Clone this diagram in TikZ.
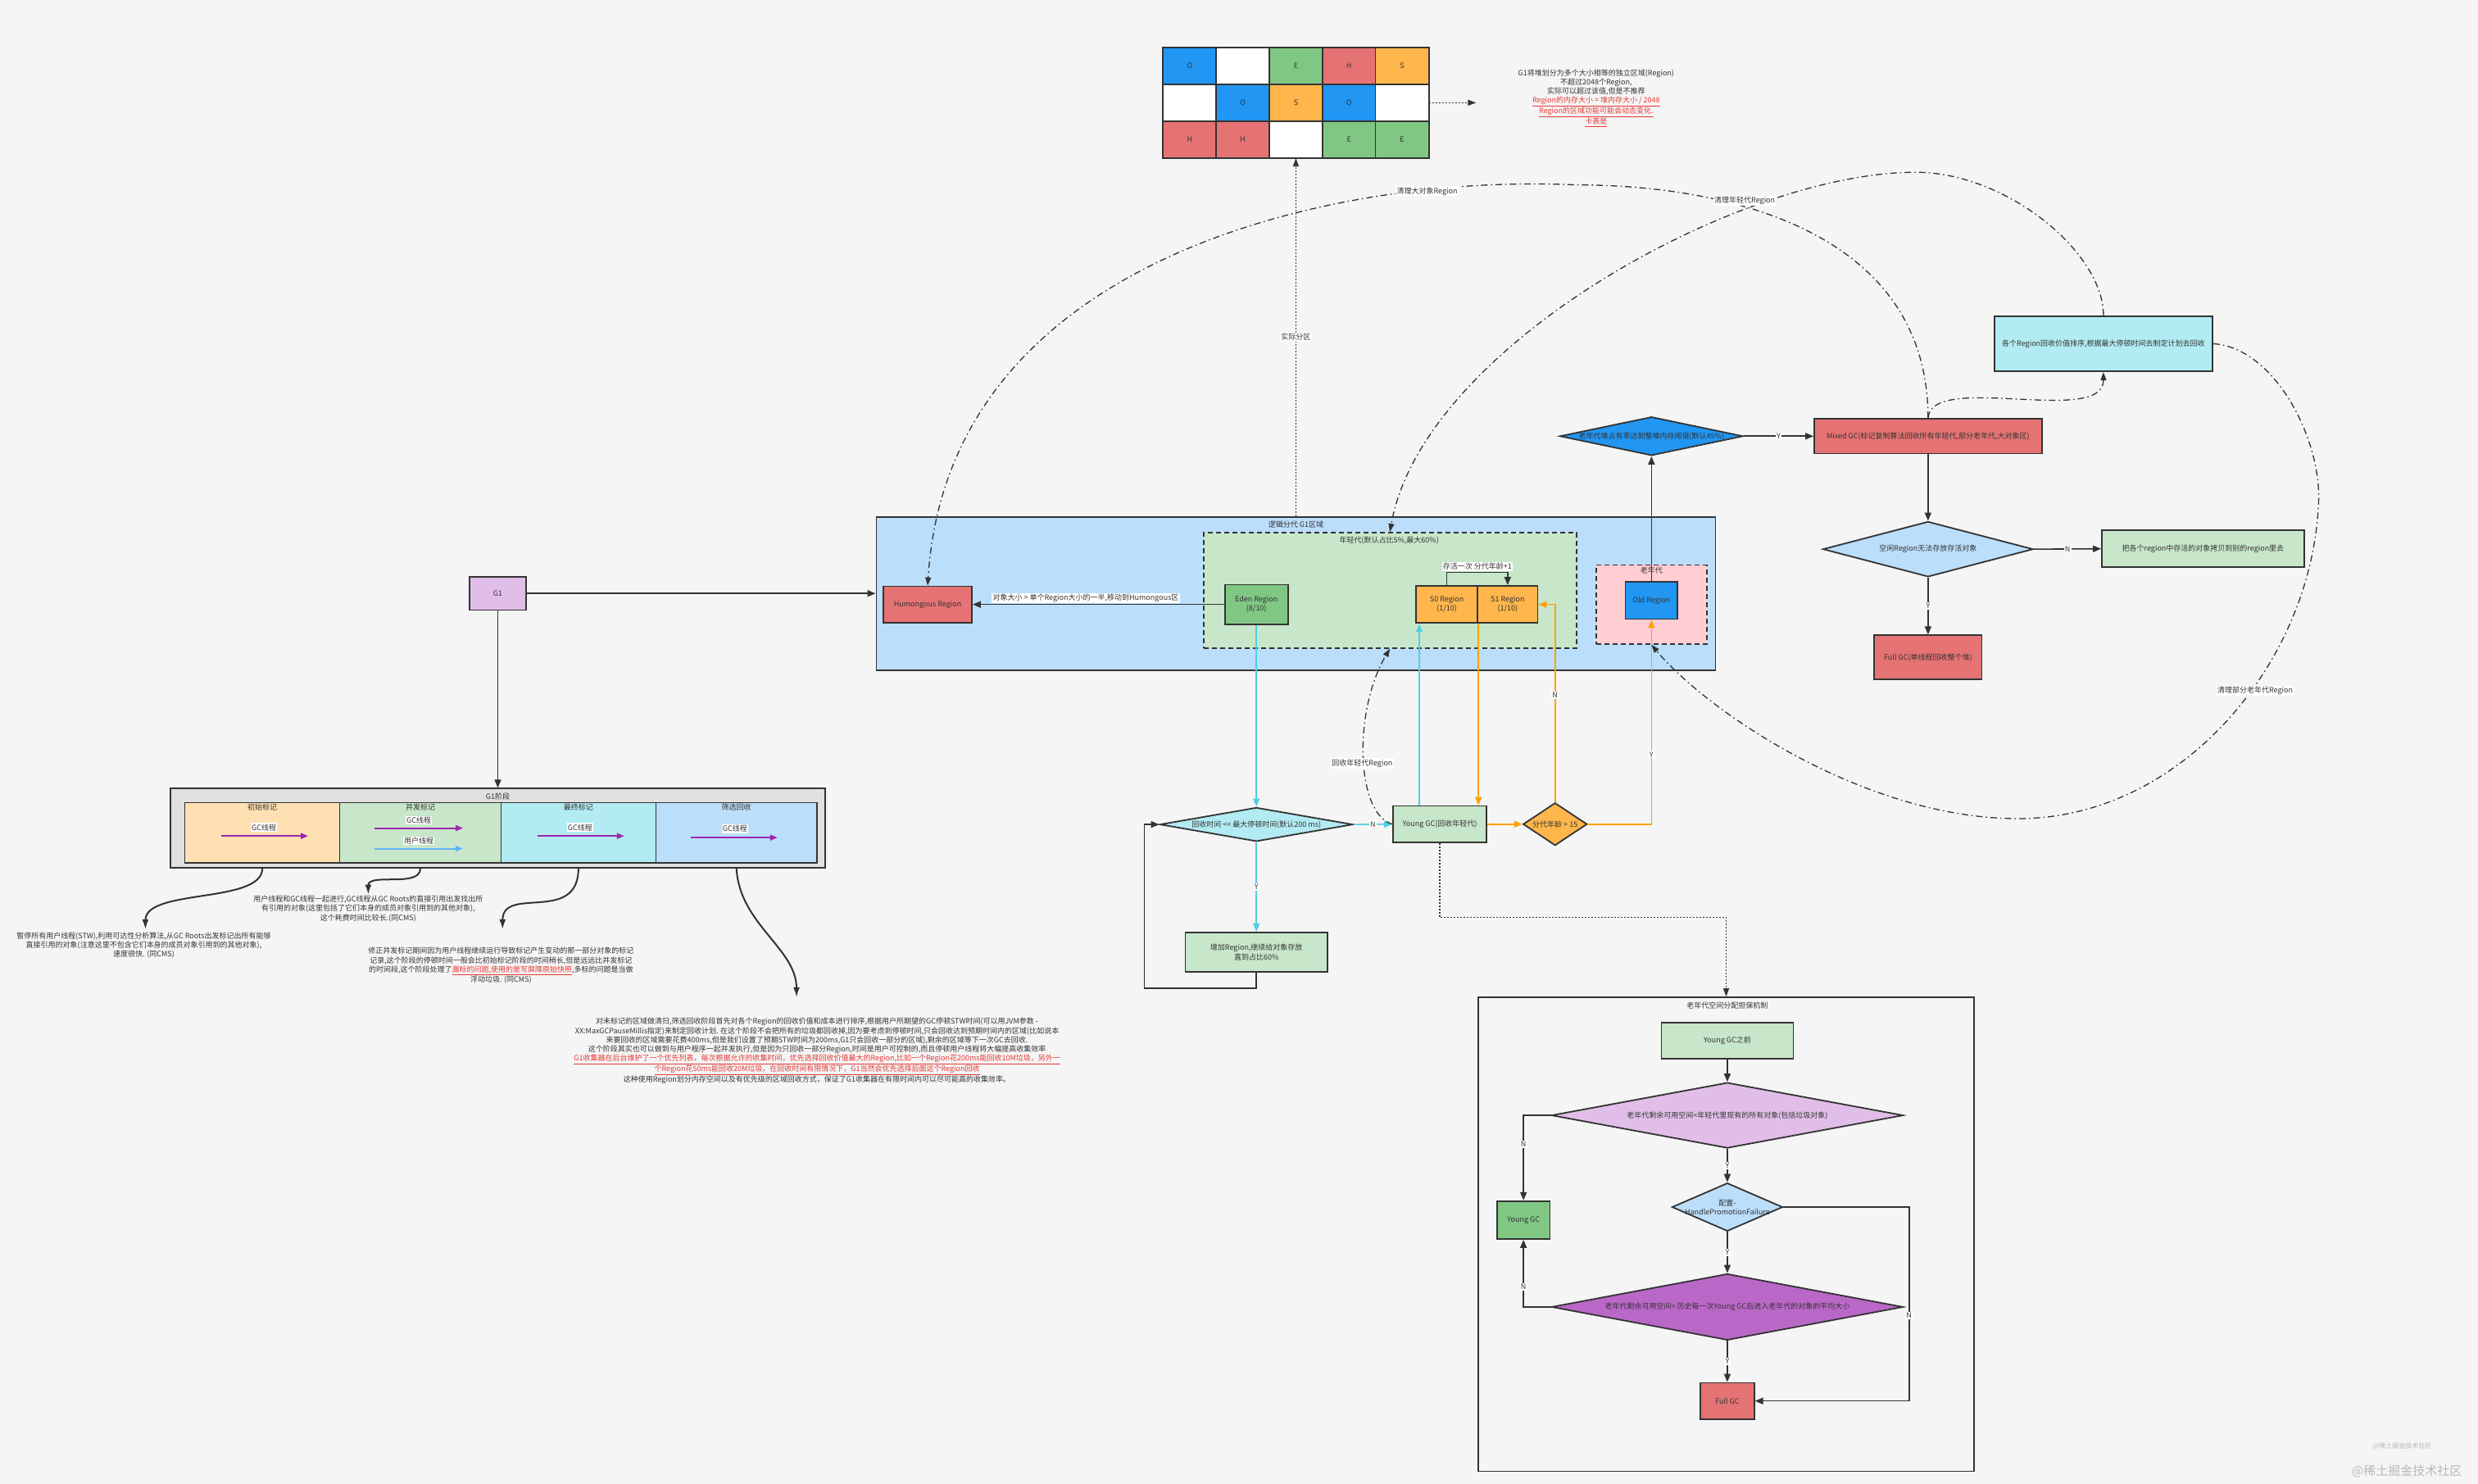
\documentclass[tikz,border=0pt]{standalone}
\usepackage{fontspec}
\setmainfont{Noto Sans CJK SC}
\usetikzlibrary{arrows.meta,shapes.geometric}
\definecolor{bg}{HTML}{F5F5F5}
\definecolor{dk}{HTML}{333333}
\definecolor{cO}{HTML}{2196F3}
\definecolor{cE}{HTML}{81C784}
\definecolor{cH}{HTML}{E57373}
\definecolor{cS}{HTML}{FFB74D}
\definecolor{lblue}{HTML}{BBDEFB}
\definecolor{lgreen}{HTML}{C8E6C9}
\definecolor{lpink}{HTML}{FFCDD2}
\definecolor{lpurple}{HTML}{E1BEE7}
\definecolor{lcyan}{HTML}{B2EBF2}
\definecolor{lgray}{HTML}{E0E0E0}
\definecolor{lorange}{HTML}{FFE0B2}
\definecolor{mpurple}{HTML}{BA68C8}
\definecolor{arrp}{HTML}{9C27B0}
\definecolor{arrb}{HTML}{64B5F6}
\definecolor{lncyan}{HTML}{4DD0E1}
\definecolor{lnor}{HTML}{FFA000}
\definecolor{red1}{HTML}{E53935}
\definecolor{wm}{HTML}{B8B8B8}
\newcommand\fsz{\fontsize{9}{11.2}\selectfont}
\newcommand\redul[1]{{\color{red1}\underline{#1}}}
\tikzset{
 every node/.style={font=\fsz, text=dk},
 sz/.style 2 args={minimum width=#1*1.9286pt, minimum height=#2*1.9286pt},
 bx/.style={draw=dk, line width=1.8pt, inner sep=0pt, align=center},
 dbx/.style={draw=dk, line width=1.8pt, dash pattern=on 6pt off 4pt, inner sep=0pt},
 dia/.style={shape=diamond, draw=dk, line width=1.8pt, inner sep=0pt},
 cn/.style={draw=dk, line width=1.6pt, -{Triangle[length=10pt,width=8pt]}},
 lbl/.style={fill=white, inner sep=1.2pt},
 dd/.style={draw=dk, line width=1.3pt, dash pattern=on 8pt off 4pt on 1.6pt off 4pt, -{Triangle[length=10pt,width=7pt]}},
 dt/.style={draw=dk, line width=1.3pt, dash pattern=on 2pt off 2pt, -{Triangle[length=10pt,width=7pt]}},
 cy/.style={draw=lncyan, line width=1.6pt, -{Triangle[length=10pt,width=8pt]}},
 og/.style={draw=lnor, line width=1.6pt, -{Triangle[length=10pt,width=8pt]}},
 parr/.style={draw=arrp, line width=2pt, -{Triangle[length=9pt,width=7pt]}},
 barr/.style={draw=arrb, line width=2pt, -{Triangle[length=9pt,width=7pt]}},
 desc/.style={align=center, font=\fsz},
 scurve/.style={draw=dk, line width=2pt, -{Latex[length=12pt,width=8pt]}},
}
\begin{document}
\begin{tikzpicture}[x=1.9286pt,y=-1.9286pt]
\useasboundingbox (0,0) rectangle (1568,939);
\fill[bg] (0,0) rectangle (1568,939);

% ---------------- grid of regions
\node[sz={168}{70}, inner sep=0pt] (grid) at (820,65) {};
\foreach \i/\j/\cc/\tx in {0/0/cO/O,1/0/white/,2/0/cE/E,3/0/cH/H,4/0/cS/S,0/1/white/,1/1/cO/O,2/1/cS/S,3/1/cO/O,4/1/white/,0/2/cH/H,1/2/cH/H,2/2/white/,3/2/cE/E,4/2/cE/E}{
  \filldraw[fill=\cc, draw=dk, line width=1.5pt] (736+\i*33.6, 30+\j*23.333) rectangle ++(33.6,23.333);
  \node at (736+\i*33.6+16.8, 30+\j*23.333+11.667) {\tx};
}
\draw[dk, line width=2.2pt] (grid.north west) rectangle (grid.south east);
\node[desc] (gtext) at (1010,62) {G1将堆划分为多个大小相等的独立区域(Region)\\不超过2048个Region,\\实际可以超过该值,但是不推荐\\\redul{Region的内存大小 = 堆内存大小 / 2048}\\\redul{Region的区域功能可能会动态变化.}\\\redul{卡表是}};
\coordinate (gend) at (934,65);
\draw[dt] (grid.east) -- (gend);

% ---------------- logical G1 area
\node[bx, fill=lblue, sz={531}{97}] (g1area) at (820,375.5) {};
\node at (820,332) {逻辑分代 G1区域};
\node[dbx, fill=lgreen, sz={236}{73}] (young) at (879.5,373.5) {};
\node at (879,342) {年轻代(默认占比5\%,最大60\%)};
\node[dbx, fill=lpink, sz={70}{50}] (oldgen) at (1045,382.5) {};
\node at (1045,361) {老年代};
\node[bx, fill=cH, sz={56}{23}] (hum) at (587,382.5) {Humongous Region};
\node[bx, fill=cE, sz={40}{25}] (eden) at (795,382.5) {Eden Region\\(8/10)};
\node[bx, fill=cS, sz={39}{23.5}] (s0) at (915.5,382.5) {S0 Region\\(1/10)};
\node[bx, fill=cS, sz={38}{23.5}] (s1) at (954,382.5) {S1 Region\\(1/10)};
\node[bx, fill=cO, sz={33}{23.5}] (oldr) at (1045,380) {Old Region};

\draw[cn] (eden.west) -- (hum.east) node[pos=0.55, above=1pt, lbl]{对象大小 > 单个Region大小的一半,移动到Humongous区};
\draw[cn] (s0.north) -- ++(0,-8) -| (s1.north) node[pos=0.25, above=1pt, lbl]{存活一次 分代年龄+1};

% ---------------- G1 node
\node[bx, fill=lpurple, sz={36}{21}] (g1) at (315,375.5) {G1};
\draw[cn] (g1.east) -- (g1area.west |- g1.east);

% ---------------- G1 stages
\node[bx, fill=lgray, sz={414}{50}] (stage) at (315,524) {};
\node at (315,504) {G1阶段};
\node[bx, line width=1.5pt, fill=lorange, sz={98}{38}] (p1) at (166,527) {};
\node[bx, line width=1.5pt, fill=lgreen, sz={102}{38}] (p2) at (266,527) {};
\node[bx, line width=1.5pt, fill=lcyan, sz={98}{38}] (p3) at (366,527) {};
\node[bx, line width=1.5pt, fill=lblue, sz={102}{38}] (p4) at (466,527) {};
\node at (166,511) {初始标记};
\node at (266,511) {并发标记};
\node at (366,511) {最终标记};
\node at (466,511) {筛选回收};
\draw[parr] (140,529) -- (195,529);
\node[lbl] at (167,523.5) {GC线程};
\draw[parr] (237,524) -- (293,524);
\node[lbl] at (265,519) {GC线程};
\draw[barr] (237,537) -- (293,537);
\node[lbl] at (265,532) {用户线程};
\draw[parr] (340,529) -- (395,529);
\node[lbl] at (367,523.5) {GC线程};
\draw[parr] (437,530) -- (492,530);
\node[lbl] at (465,524.5) {GC线程};
\draw[cn] (g1.south) -- (stage.north);

% ---------------- descriptions
\node[desc] (t1) at (91,598) {暂停所有用户线程(STW),利用可达性分析算法,从GC Roots出发标记出所有能够\\直接引用的对象(注意这里不包含它们本身的成员对象引用到的其他对象),\\速度很快. (同CMS)};
\node[desc] (t2) at (233,575) {用户线程和GC线程一起进行,GC线程从GC Roots的直接引用出发找出所\\有引用的对象(这里包括了它们本身的成员对象引用到的其他对象),\\这个耗费时间比较长.(同CMS)};
\node[desc] (t3) at (317,611) {修正并发标记期间因为用户线程继续运行导致标记产生变动的那一部分对象的标记\\记录,这个阶段的停顿时间一般会比初始标记阶段的时间稍长,但是远远比并发标记\\的时间段,这个阶段处理了\redul{漏标的问题,使用的是写屏障原始快照},多标的问题是当做\\浮动垃圾. (同CMS)};
\node[desc] (t4) at (517,665) {对未标记的区域做清扫,筛选回收阶段首先对各个Region的回收价值和成本进行排序,根据用户所期望的GC停顿STW时间(可以用JVM参数 -\\XX:MaxGCPauseMillis指定)来制定回收计划. 在这个阶段不会把所有的垃圾都回收掉,因为要考虑到停顿时间,只会回收达到预期时间内的区域(比如说本\\来要回收的区域需要花费400ms,但是我们设置了预期STW时间为200ms,G1只会回收一部分的区域),剩余的区域等下一次GC去回收.\\这个阶段其实也可以做到与用户程序一起并发执行,但是因为只回收一部分Region,时间是用户可控制的,而且停顿用户线程将大幅提高收集效率\\\redul{G1收集器在后台维护了一个优先列表，每次根据允许的收集时间，优先选择回收价值最大的Region,比如一个Region花200ms能回收10M垃圾，另外一}\\\redul{个Region花50ms能回收20M垃圾，在回收时间有限情况下，G1当然会优先选择后面这个Region回收}\\这种使用Region划分内存空间以及有优先级的区域回收方式，保证了G1收集器在有限时间内可以尽可能高的收集效率。};
\coordinate (e1) at (92,588);
\coordinate (e2) at (233,566);
\coordinate (e3) at (318,588);
\coordinate (e4) at (504,631);
\draw[scurve] (p1.south |- stage.south) .. controls (166,572) and (92,562) .. (e1);
\draw[scurve] (p2.south |- stage.south) .. controls (266,562) and (233,552) .. (e2);
\draw[scurve] (p3.south |- stage.south) .. controls (366,585) and (318,560) .. (e3);
\draw[scurve] (p4.south |- stage.south) .. controls (468,585) and (504,600) .. (e4);

% ---------------- young GC loop
\node[dia, fill=lcyan, sz={122}{21.5}] (dt1) at (795,521.7) {};
\node at (dt1) {回收时间 <{}< 最大停顿时间(默认200 ms)};
\node[bx, fill=lgreen, sz={59}{23}] (ygc) at (911,521.5) {Young GC(回收年轻代)};
\node[dia, fill=cS, sz={40.5}{27}] (age) at (984,521.5) {};
\node at (age) {分代年龄 > 15};
\node[bx, fill=lgreen, sz={90}{25}] (inc) at (795,602.5) {增加Region,继续给对象存放\\直到占比60\%};
\coordinate (loopc) at (724,521.7);

\draw[cy] (eden.south) -- (dt1.north);
\draw[cy] (dt1.south) -- (inc.north) node[midway, lbl]{Y};
\draw[cn] (inc.south) -- ++(0,10) -| (loopc) -- (dt1.west);
\draw[cy] (dt1.east) -- (ygc.west) node[midway, lbl]{N};
\draw[cy] ([xshift=-25pt]ygc.north) -- ([xshift=-25pt]ygc.north |- s0.south);
\draw[og] (s0.south east) -- (s0.south east |- ygc.north);
\draw[og] (ygc.east) -- (age.west);
\draw[og] (age.north) -- node[lbl, pos=0.54]{N} (age.north |- s1.east) -- (s1.east);
\draw[og] (age.east) -| node[pos=0.67, lbl]{Y} (oldr.south);

% ---------------- guarantee mechanism
\node[draw=dk, line width=1.5pt, inner sep=0pt, sz={313.5}{300}] (guar) at (1092.25,781) {};
\node at (1093,636) {老年代空间分配担保机制};
\draw[dt] (ygc.south) -- ++(0,47) -| (guar.north);
\node[bx, fill=lgreen, sz={83.5}{23}] (ybefore) at (1093,658.5) {Young GC之前};
\node[dia, fill=lpurple, sz={222.5}{41.5}] (q1) at (1093,705.75) {};
\node at (q1) {老年代剩余可用空间<年轻代里现有的所有对象(包括垃圾对象)};
\node[bx, fill=cE, sz={33.6}{24}] (ygc2) at (964,772) {Young GC};
\node[dia, fill=lblue, sz={70}{30.5}] (q2) at (1093,763.8) {};
\node[align=center] at (q2) {配置-\\HandlePromotionFailure};
\node[dia, fill=mpurple, sz={222.5}{42}] (q3) at (1093,827) {};
\node at (q3) {老年代剩余可用空间< 历史每一次Young GC后进入老年代的对象的平均大小};
\node[bx, fill=cH, sz={34}{23}] (fgc) at (1093,886.5) {Full GC};
\coordinate (rgt) at (1208,763.8);
\draw[cn] (ybefore.south) -- (q1.north);
\draw[cn] (q1.west) -| node[pos=0.67, lbl]{N} (ygc2.north);
\draw[cn] (q1.south) -- node[lbl]{Y} (q2.north);
\draw[cn] (q2.south) -- node[lbl]{Y} (q3.north);
\draw[cn] (q3.west) -| node[pos=0.65, lbl]{N} (ygc2.south);
\draw[cn] (q3.south) -- node[lbl]{Y} (fgc.north);
\draw[cn] (q2.east) -- (rgt) |- node[pos=0.28, lbl]{N} (fgc.east);

% ---------------- mixed GC flow
\node[dia, fill=cO, sz={116}{24.5}] (q45) at (1045,276) {};
\node at (q45) {老年代堆占有率达到整堆内存阈值(默认45\%)};
\node[bx, fill=cH, sz={144}{22}] (mixed) at (1220,276) {Mixed GC(标记复制算法回收所有年轻代,部分老年代,大对象区)};
\node[dia, fill=lblue, sz={133}{35}] (qfree) at (1220,347.5) {};
\node at (qfree) {空闲Region无法存放存活对象};
\node[bx, fill=lgreen, sz={128}{23.5}] (copy) at (1394,347.25) {把各个region中存活的对象拷贝到别的region里去};
\node[bx, fill=cH, sz={68}{28}] (fullgc) at (1220,416) {Full GC(单线程回收整个堆)};
\node[bx, fill=lcyan, sz={138}{35}] (plan) at (1331,217.5) {各个Region回收价值排序,根据最大停顿时间去制定计划去回收};

\draw[cn] (oldr.north) -- (q45.south);
\draw[cn] (q45.east) -- node[lbl]{Y} (mixed.west);
\draw[cn] (mixed.south) -- (qfree.north);
\draw[cn] (qfree.east) -- node[lbl]{N} (copy.west);
\draw[cn] (qfree.south) -- node[lbl]{Y} (fullgc.north);

% ---------------- dash-dot curves
\coordinate (pa) at (997,117);
\coordinate (pb) at (1212,109);
\coordinate (pc1) at (1467,320);
\coordinate (pc2) at (1277,518);
\draw[dd] (mixed.north) .. controls (1220,150) and (1100,117) .. (pa) .. controls (850,110) and (600,160) .. (hum.north);
\draw[dd] (plan.north) .. controls (1331,160) and (1270,109) .. (pb) .. controls (1100,109) and (900,220) .. (young.north);
\draw[dd] (plan.east) .. controls (1440,220) and (1470,280) .. (pc1) .. controls (1462,420) and (1380,518) .. (pc2) .. controls (1180,518) and (1080,450) .. (oldgen.south);
\draw[dd] (mixed.north) .. controls (1222,235) and (1331,270) .. (plan.south);
\draw[dd] (ygc.west) .. controls (858,515) and (856,450) .. (young.south);
\node[lbl] (la) at (903,121) {清理大对象Region};
\node[lbl] (lb) at (1104,127) {清理年轻代Region};
\node[lbl] (lc) at (1427,437) {清理部分老年代Region};
\node[lbl] (ld) at (862,483) {回收年轻代Region};
\draw[dt] (g1area.north) -- (grid.south) node[pos=0.5, lbl]{实际分区};

% ---------------- watermark
\node[text=wm, font=\fontsize{8}{9}\selectfont] (wm1) at (1520,915) {@稀土掘金技术社区};
\node[text=wm, font=\fontsize{15}{17}\selectfont] (wm2) at (1523,931) {@稀土掘金技术社区};
\end{tikzpicture}
\end{document}
